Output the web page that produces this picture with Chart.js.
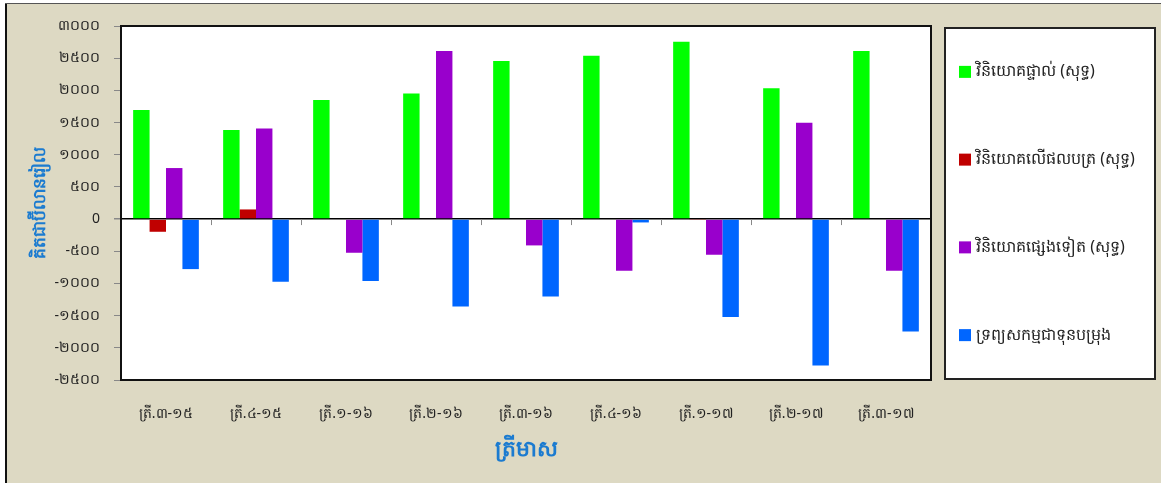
<!DOCTYPE html>
<html>
<head>
<meta charset="utf-8">
<script src="https://cdn.jsdelivr.net/npm/chart.js@4.4.1/dist/chart.umd.min.js"></script>
<style>
  html, body { margin: 0; padding: 0; background: #fff; }
  canvas { display: block; }
</style>
</head>
<body>
<canvas id="chart1" width="1161" height="483"></canvas>
<script>
// quarters
var quarters = ['ត្រី.៣-១៥', 'ត្រី.៤-១៥', 'ត្រី.១-១៦', 'ត្រី.២-១៦', 'ត្រី.៣-១៦', 'ត្រី.៤-១៦', 'ត្រី.១-១៧', 'ត្រី.២-១៧', 'ត្រី.៣-១៧'];

// series (billion riel)
var directInv = [1694, 1383, 1849, 1953, 2455, 2538, 2756, 2031, 2610];
var portfolioInv = [-197, 150, 0, 0, 0, 0, -8, 0, 0];
var otherInv = [793, 1409, -523, 2610, -409, -803, -554, 1497, -803];
var reserveAssets = [-777, -974, -963, -1357, -1201, -52, -1523, -2274, -1745];

var seriesNames = ['វិនិយោគផ្ទាល់ (សុទ្ធ)', 'វិនិយោគលើផលបត្រ (សុទ្ធ)', 'វិនិយោគផ្សេងទៀត (សុទ្ធ)', 'ទ្រព្យសកម្មជាទុនបម្រុង'];
var seriesColors = ['#00FF00', '#C00000', '#9900CC', '#0066FF'];

// y axis tick labels
var yTickValues = [3000, 2500, 2000, 1500, 1000, 500, 0, -500, -1000, -1500, -2000, -2500];
var yTickLabels = ['៣០០០', '២៥០០', '២០០០', '១៥០០', '១០០០', '៥០០', '0', '-៥០០', '-១០០០', '-១៥០០', '-២០០០', '-២៥០០'];

var yTitle = 'គិតជាប៊ីលានរៀល';
var xTitle = 'ត្រីមាស';

var khFont = "'Noto Sans', 'DejaVu Sans', sans-serif";
var beige = '#DDD9C3';

// background frame, plot area, tick marks and legend box
var framePlugin = {
  id: 'frame',
  beforeDraw: function(chart) {
    var c = chart.ctx, a = chart.chartArea;
    c.save();
    c.fillStyle = '#fff';
    c.fillRect(0, 0, chart.width, chart.height);
    c.fillStyle = beige;
    c.fillRect(5, 4, chart.width - 5, chart.height - 4);
    c.strokeStyle = '#555';
    c.lineWidth = 1;
    c.beginPath();
    c.moveTo(5, 3.5); c.lineTo(chart.width, 3.5);
    c.stroke();
    c.strokeStyle = '#111';
    c.lineWidth = 2;
    c.beginPath();
    c.moveTo(6, 4); c.lineTo(6, chart.height);
    c.stroke();
    c.fillStyle = '#fff';
    c.fillRect(a.left, a.top, a.right - a.left, a.bottom - a.top);
    c.restore();
  },
  afterDraw: function(chart) {
    var c = chart.ctx, a = chart.chartArea;
    var x = chart.scales.x, y = chart.scales.y;
    var y0 = y.getPixelForValue(0);
    c.save();
    // small marks at category boundaries on the zero line
    c.strokeStyle = '#888';
    c.lineWidth = 1;
    for (var i = 0; i < quarters.length - 1; i++) {
      var bx = Math.round((x.getPixelForValue(i) + x.getPixelForValue(i + 1)) / 2) + 0.5;
      c.beginPath();
      c.moveTo(bx, y0);
      c.lineTo(bx, y0 + 6);
      c.stroke();
    }
    // plot border
    c.strokeStyle = '#111';
    c.lineWidth = 2;
    c.strokeRect(a.left, a.top, a.right - a.left, a.bottom - a.top);

    // legend box
    var lx = a.right + 14, ly = a.top + 2;
    var lw = chart.width - 6 - lx, lh = a.bottom - 1 - ly;
    c.fillStyle = '#fff';
    c.fillRect(lx, ly, lw, lh);
    c.strokeStyle = '#222';
    c.lineWidth = 2;
    c.strokeRect(lx, ly, lw, lh);
    var n = chart.data.datasets.length;
    c.font = '16px ' + khFont;
    c.textBaseline = 'middle';
    c.textAlign = 'left';
    chart.data.datasets.forEach(function(ds, k) {
      var cy = ly + (k + 0.5) * lh / n;
      c.fillStyle = ds.backgroundColor;
      c.fillRect(lx + 14, cy - 6, 12, 12);
      c.fillStyle = '#222';
      c.fillText(ds.label, lx + 31, cy);
    });
    c.restore();
  }
};

var datasets = [directInv, portfolioInv, otherInv, reserveAssets].map(function(vals, k) {
  return {
    label: seriesNames[k],
    data: vals,
    backgroundColor: seriesColors[k],
    borderWidth: 0,
    categoryPercentage: 0.73,
    barPercentage: 1.0
  };
});

var ctx1 = document.getElementById('chart1').getContext('2d');
var chart1 = new Chart(ctx1, {
  type: 'bar',
  data: {
    labels: quarters,
    datasets: datasets
  },
  plugins: [framePlugin],
  options: {
    responsive: false,
    animation: false,
    layout: { padding: { top: 26, right: 230, left: 0, bottom: 0 } },
    plugins: {
      legend: { display: false },
      tooltip: { enabled: false }
    },
    scales: {
      x: {
        grid: { display: false },
        border: { display: false },
        ticks: {
          color: '#222',
          padding: 18,
          maxRotation: 0,
          font: { family: khFont, size: 14 }
        },
        title: {
          display: true,
          text: xTitle,
          color: '#1B7BD0',
          padding: { top: 0, bottom: 20 },
          font: { family: khFont, size: 22, weight: 'bold' }
        },
        afterFit: function(scale) { scale.height = 103; }
      },
      y: {
        min: -2500,
        max: 3000,
        border: { display: false },
        grid: {
          drawOnChartArea: true,
          color: function(c) { return c.tick && c.tick.value === 0 ? '#000' : 'rgba(0,0,0,0)'; },
          lineWidth: function(c) { return c.tick && c.tick.value === 0 ? 1.5 : 1; },
          tickColor: '#888',
          tickLength: 7
        },
        ticks: {
          stepSize: 500,
          padding: 14,
          color: '#222',
          font: { family: khFont, size: 14 },
          callback: function(v) {
            var i = yTickValues.indexOf(v);
            return i >= 0 ? yTickLabels[i] : '';
          }
        },
        title: {
          display: true,
          text: yTitle,
          color: '#1B7BD0',
          padding: { top: 30, bottom: 0 },
          font: { family: khFont, size: 17, weight: 'bold' }
        },
        afterFit: function(scale) { scale.width = 121; }
      }
    }
  }
});
</script>
</body>
</html>
